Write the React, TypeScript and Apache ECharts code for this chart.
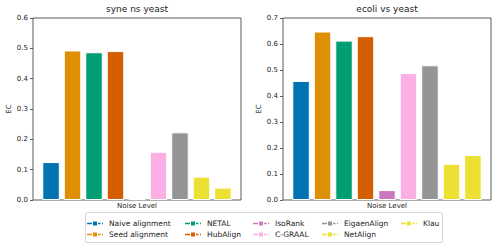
import React, { useEffect, useRef } from "react";
import * as echarts from "echarts";

const methods = ["Naive alignment", "Seed alignment", "NETAL", "HubAlign", "IsoRank", "C-GRAAL", "EigaenAlign", "NetAlign", "Klau"];
const colors = ["#0173b2", "#de8f05", "#029e73", "#d55e00", "#cc78bc", "#fbafe4", "#949494", "#ece133", "#ece133"];
const syneValues = [0.125, 0.493, 0.487, 0.491, 0.003, 0.159, 0.223, 0.077, 0.041];
const ecoliValues = [0.458, 0.648, 0.613, 0.63, 0.038, 0.488, 0.518, 0.139, 0.173];
const panelTitles = ["syne ns yeast", "ecoli vs yeast"];
const yMaxes = [0.6, 0.7];
const legendColumns = [[0, 1], [2, 3], [4, 5], [6, 7], [8]];

const FONT = "DejaVu Sans";
const ICON = "path://M0,3.3h5v1.4h-5z M6,2h4v4h-4z M11,3.3h2.5v1.4h-2.5z M15,3.3h1v1.4h-1z";

export default function App() {
  const ref = useRef<HTMLDivElement>(null);
  useEffect(() => {
    const chart = echarts.init(ref.current!, null, { renderer: "svg" });
    const grids = [
      { left: 33, right: 258, top: 18, bottom: 48 },
      { left: 283, right: 8, top: 18, bottom: 48 },
    ];
    const allValues = [syneValues, ecoliValues];
    const series: any[] = [];
    allValues.forEach((vals, g) => {
      methods.forEach((m, i) => {
        series.push({
          type: "bar",
          name: m,
          xAxisIndex: g,
          yAxisIndex: g,
          barWidth: 17.5,
          barGap: "-100%",
          data: [[i, vals[i]]],
          itemStyle: { color: colors[i], borderColor: "#ffffff", borderWidth: 1 },
        });
      });
    });
    chart.setOption({
      animation: false,
      textStyle: { fontFamily: FONT },
      title: panelTitles.map((t, g) => ({
        text: t,
        left: g === 0 ? 137 : 387,
        textAlign: "center",
        top: 4,
        padding: 0,
        textStyle: { fontFamily: FONT, fontSize: 9, fontWeight: "normal", color: "#222" },
      })),
      grid: grids.map((gr) => ({ ...gr, show: true, borderColor: "#333", borderWidth: 0.8, backgroundColor: "transparent" })),
      xAxis: grids.map((_, g) => ({
        type: "value",
        gridIndex: g,
        min: -0.84,
        max: 8.84,
        name: "Noise Level",
        nameLocation: "middle",
        nameGap: 2,
        nameTextStyle: { fontFamily: FONT, fontSize: 7, color: "#222", verticalAlign: "top" },
        axisLabel: { show: false },
        axisTick: { show: false },
        splitLine: { show: false },
        axisLine: { show: false, onZero: false },
      })),
      yAxis: grids.map((_, g) => ({
        type: "value",
        gridIndex: g,
        min: 0,
        max: yMaxes[g],
        interval: 0.1,
        name: "EC",
        nameLocation: "middle",
        nameGap: 20,
        nameTextStyle: { fontFamily: FONT, fontSize: 7, color: "#222" },
        axisLabel: { fontFamily: FONT, fontSize: 7, color: "#222", margin: 5, formatter: (v: number) => v.toFixed(1) },
        axisTick: { show: true, length: 3, lineStyle: { color: "#333", width: 0.8 } },
        axisLine: { show: false, onZero: false },
        splitLine: { show: false },
      })),
      legend: legendColumns.map((col, c) => ({
        orient: "vertical",
        left: [87, 185, 253, 322, 401][c],
        top: 219.5,
        itemWidth: 16,
        itemHeight: 8,
        itemGap: 3,
        icon: ICON,
        data: col.map((i) => methods[i]),
        itemStyle: { borderWidth: 0 },
        textStyle: { fontFamily: FONT, fontSize: 7.5, color: "#222", padding: [0, 0, 0, 1] },
        padding: 0,
      })),
      graphic: [
        {
          type: "rect",
          shape: { x: 85.5, y: 212.5, width: 357, height: 30, r: 2 },
          style: { fill: "none", stroke: "#cccccc", lineWidth: 0.8 },
        },
      ],
      series,
    });
    return () => chart.dispose();
  }, []);
  return <div ref={ref} style={{ width: 499, height: 248, position: "absolute", left: 0, top: 0 }} />;
}
